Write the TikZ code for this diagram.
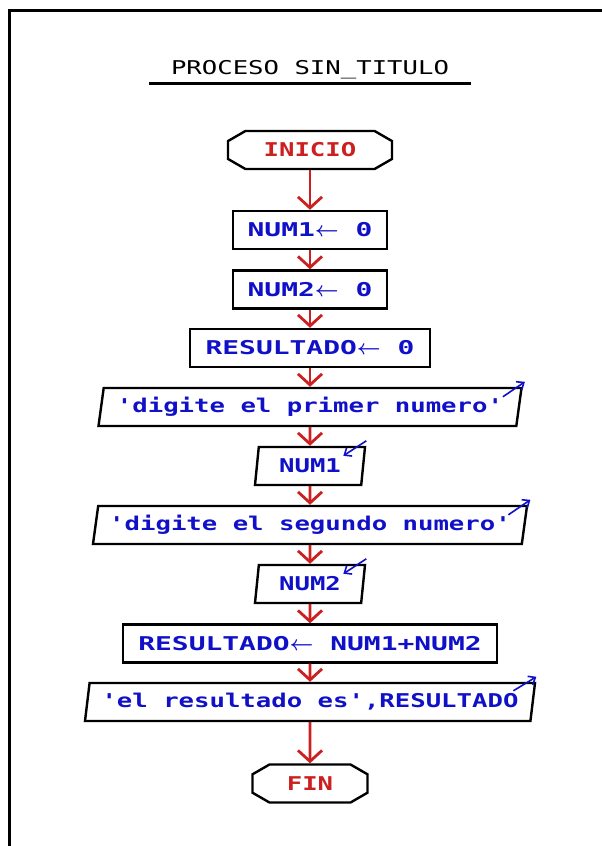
\documentclass[tikz,border=0pt]{standalone}
\usepackage{fontspec}
\newfontfamily\flowfont[FakeStretch=1.35,Ligatures=TeXOff]{DejaVu Sans Mono}
\newfontfamily\flowwide[FakeStretch=1.47,Ligatures=TeXOff]{DejaVu Sans Mono}
\usetikzlibrary{arrows.meta}
\usetikzlibrary{shapes.geometric,shapes.misc}

\definecolor{flowred}{RGB}{204,32,32}
\definecolor{flowblue}{RGB}{16,16,200}

% flecha de asignacion
\newcommand{\asig}{{\fontsize{22}{22}\selectfont\boldmath$\leftarrow$}}

\begin{document}
\begin{tikzpicture}[x=1pt,y=-1pt,
    every node/.style={font=\flowfont\bfseries\fontsize{19}{22}\selectfont,text=flowblue,inner sep=0pt},
    endpoint/.style={chamfered rectangle,chamfered rectangle xsep=20pt,chamfered rectangle angle=60,
                     draw=black,line width=2.4pt,text=flowred,minimum height=38pt},
    assign/.style={rectangle,draw=black,line width=2.4pt,minimum height=38pt,
                   font=\flowwide\bfseries\fontsize{19}{22}\selectfont},
    io/.style={trapezium,trapezium left angle=75,trapezium right angle=105,trapezium stretches body,
               draw=black,line width=2.4pt,minimum height=38pt},
    flow/.style={draw=flowred,line width=2.8pt,-{Straight Barb[length=11pt,width=24pt]}},
    iomark/.style={draw=flowblue,line width=1.6pt,-{Straight Barb[length=6pt,width=10pt]}}]

	\useasboundingbox (0,0) rectangle (602,846);
	\draw[line width=2.5pt] (9.5,846) -- (9.5,10.5) -- (602,10.5);

	% titulo
	\node[font=\flowfont\fontsize{19}{22}\selectfont,text=black] (titulo) at (310,70) {PROCESO SIN\_TITULO};
	\draw[line width=3pt] (149,83) -- (471,83);

	\node[endpoint,minimum width=164pt] (inicio) at (310,150) {INICIO};
	\node[assign,minimum width=154pt] (num1) at (310,230) {NUM1\asig\ 0};
	\node[assign,minimum width=154pt] (num2) at (310,289.5) {NUM2\asig\ 0};
	\node[assign,minimum width=240pt] (res0) at (310,348) {RESULTADO\asig\ 0};
	\node[io,minimum width=423pt] (msg1) at (310,407) {'digite el primer numero'};
	\node[io,minimum width=110pt] (leer1) at (310,466) {NUM1};
	\node[io,minimum width=434pt] (msg2) at (310,525) {'digite el segundo numero'};
	\node[io,minimum width=110pt] (leer2) at (310,584) {NUM2};
	\node[assign,minimum width=374pt] (suma) at (310,643.5) {RESULTADO\asig\ NUM1+NUM2};
	\node[io,minimum width=450pt] (msg3) at (310,702) {'el resultado es',RESULTADO};
	\node[endpoint,minimum width=115pt] (fin) at (310,783.5) {FIN};

	% flechas de flujo
	\draw[flow] (inicio.south) -- (num1.north);
	\draw[flow] (num1.south) -- (num2.north);
	\draw[flow] (num2.south) -- (res0.north);
	\draw[flow] (res0.south) -- (msg1.north);
	\draw[flow] (msg1.south) -- (leer1.north);
	\draw[flow] (leer1.south) -- (msg2.north);
	\draw[flow] (msg2.south) -- (leer2.north);
	\draw[flow] (leer2.south) -- (suma.north);
	\draw[flow] (suma.south) -- (msg3.north);
	\draw[flow] (msg3.south) -- (fin.north);

	% marcas de escribir / leer
	\draw[iomark] ([shift={(-20,10)}]msg1.top right corner) -- ([shift={(2,-5)}]msg1.top right corner);
	\draw[iomark] ([shift={(0,-5)}]leer1.top right corner) -- ([shift={(-23,10)}]leer1.top right corner);
	\draw[iomark] ([shift={(-20,10)}]msg2.top right corner) -- ([shift={(2,-5)}]msg2.top right corner);
	\draw[iomark] ([shift={(0,-5)}]leer2.top right corner) -- ([shift={(-23,10)}]leer2.top right corner);
	\draw[iomark] ([shift={(-23,9)}]msg3.top right corner) -- ([shift={(0,-5)}]msg3.top right corner);
\end{tikzpicture}
\end{document}
